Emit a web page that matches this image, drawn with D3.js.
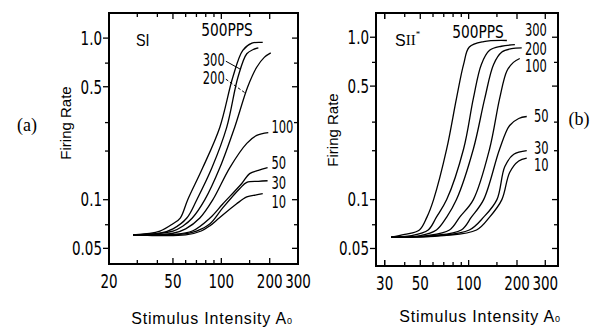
<!DOCTYPE html>
<meta charset="utf-8">
<style>
body { margin: 0; background: #fff; }
svg { display: block; }
.narrow { font-family: "Liberation Sans Narrow", "DejaVu Sans Condensed", sans-serif; }
.sans { font-family: "Liberation Sans", Arial, sans-serif; }
.serif { font-family: "Liberation Serif", "Times New Roman", serif; }
</style>
<svg id="fig" width="597" height="327"></svg>
<script src="https://cdn.jsdelivr.net/npm/d3@7"></script>
<script>
// pulse rates (PPS) of each curve
var rates = ["500", "300", "200", "100", "50", "30", "10"];

// (a) SI : stimulus intensity and firing rate per curve
var siX500 = [28.2, 41.5, 50, 55.5, 61.8, 76.7, 97.8, 118, 136, 155, 181];
var siY500 = [0.0606, 0.064, 0.071, 0.077, 0.1, 0.158, 0.28, 0.574, 0.84, 0.93, 0.94];
var siX300 = [28.2, 41.5, 50, 61, 70.4, 87.5, 108, 127, 144, 158, 170];
var siY300 = [0.0606, 0.062, 0.066, 0.077, 0.1, 0.158, 0.28, 0.574, 0.8, 0.85, 0.87];
var siX200 = [28.2, 50, 58, 66, 79, 98, 121, 146, 166, 185, 203];
var siY200 = [0.0606, 0.064, 0.069, 0.077, 0.1, 0.158, 0.28, 0.5, 0.66, 0.76, 0.81];
var siX100 = [28.2, 50, 60, 73.5, 88.6, 113, 144, 166, 196];
var siY100 = [0.0606, 0.062, 0.066, 0.077, 0.1, 0.158, 0.223, 0.25, 0.26];
var siX50 = [28.2, 50, 66, 85, 102, 134, 150, 170, 194];
var siY50 = [0.0606, 0.061, 0.064, 0.077, 0.094, 0.126, 0.145, 0.152, 0.158];
var siX30 = [28.2, 55, 70, 85, 102, 130, 144, 170, 194];
var siY30 = [0.0606, 0.061, 0.064, 0.071, 0.089, 0.117, 0.128, 0.13, 0.131];
var siX10 = [28.2, 60, 75, 85, 97, 124, 144, 165, 181];
var siY10 = [0.0606, 0.0605, 0.064, 0.069, 0.077, 0.094, 0.104, 0.107, 0.109];

// (b) SII*
var s2X500 = [33, 40, 49.4, 55, 60.5, 73, 84, 93, 101, 124, 173];
var s2Y500 = [0.0587, 0.061, 0.065, 0.078, 0.1, 0.205, 0.42, 0.68, 0.87, 0.94, 0.955];
var s2X300 = [33, 44, 56, 63, 73, 93, 107, 120, 135, 160, 194];
var s2Y300 = [0.0587, 0.06, 0.065, 0.078, 0.1, 0.205, 0.42, 0.68, 0.83, 0.88, 0.9];
var s2X200 = [33, 50, 63, 73, 84, 107, 126, 143, 161, 185, 214];
var s2Y200 = [0.0587, 0.06, 0.065, 0.078, 0.1, 0.205, 0.42, 0.68, 0.81, 0.85, 0.86];
var s2X100 = [33, 55, 76, 88, 107, 135, 156, 173, 190, 208];
var s2Y100 = [0.0587, 0.06, 0.065, 0.078, 0.1, 0.205, 0.42, 0.62, 0.7, 0.74];
var s2X50 = [33, 60, 90, 104, 124, 156, 180, 205, 230];
var s2Y50 = [0.0587, 0.06, 0.065, 0.078, 0.1, 0.205, 0.286, 0.316, 0.325];
var s2X30 = [33, 65, 101, 124, 150, 168, 191, 230];
var s2Y30 = [0.0587, 0.06, 0.065, 0.078, 0.1, 0.16, 0.19, 0.2];
var s2X10 = [33, 70, 112, 135, 161, 180, 205, 230];
var s2Y10 = [0.0587, 0.06, 0.065, 0.078, 0.1, 0.147, 0.173, 0.18];

// axis ticks
var yTickLabels = [1.0, 0.5, 0.1, 0.05];
var yTicksMinor = [0.07, 0.2, 0.3, 0.7];
var xTickLabelsA = [20, 50, 100, 200, 300];
var xTickLabelsB = [30, 50, 100, 200, 300];
var xTicksMinor = [30, 40, 60, 70, 80, 90, 150];

// curve label anchors (intensity, rate)
var siLabelX = [null, 76.7, 76.7, 205, 205, 205, 205];
var siLabelY = [null, 0.73, 0.565, 0.28, 0.168, 0.127, 0.096];
var s2LabelX = [null, 224, 224, 224, 255, 255, 255];
var s2LabelY = [null, 1.1, 0.84, 0.665, 0.326, 0.207, 0.163];
// pointer lines for 300 / 200 in (a)
var siPointX = [132, 142];
var siPointY = [0.64, 0.455];

var svg = d3.select("#fig");

function zip(xs, ys) { return xs.map(function(x, i){ return [x, ys[i]]; }); }

function label(g, s, x, y, cls, size, sx, anchor) {
  return g.append("text")
    .attr("class", cls)
    .attr("transform", "translate(" + x + "," + y + ") scale(" + sx + ",1)")
    .attr("text-anchor", anchor || "start")
    .attr("dominant-baseline", "central")
    .style("font-size", size + "px")
    .text(s);
}

function panel(opt) {
  var x = d3.scaleLog().domain(opt.xDomain).range([opt.left, opt.right]);
  var y = d3.scaleLog().domain(opt.yDomain).range([opt.bottom, opt.top]);
  var g = svg.append("g");

  // ticks
  var tk = g.append("g").attr("stroke", "#000").attr("stroke-width", 1.3);
  yTickLabels.concat(yTicksMinor).forEach(function(v){
    var len = yTickLabels.indexOf(v) >= 0 ? 6 : 4;
    tk.append("line").attr("x1", opt.left - len).attr("x2", opt.left).attr("y1", y(v)).attr("y2", y(v));
    tk.append("line").attr("x1", opt.right - len).attr("x2", opt.right).attr("y1", y(v)).attr("y2", y(v));
  });
  opt.xLabels.concat(xTicksMinor).forEach(function(v){
    if (v <= opt.xDomain[0] || v >= opt.xDomain[1]) return;
    var len = opt.xLabels.indexOf(v) >= 0 ? 6 : 4;
    tk.append("line").attr("x1", x(v)).attr("x2", x(v)).attr("y1", opt.bottom).attr("y2", opt.bottom - len);
    tk.append("line").attr("x1", x(v)).attr("x2", x(v)).attr("y1", opt.top).attr("y2", opt.top + len);
  });

  // frame
  g.append("rect")
    .attr("x", opt.left).attr("y", opt.top)
    .attr("width", opt.right - opt.left).attr("height", opt.bottom - opt.top)
    .attr("fill", "none").attr("stroke", "#000").attr("stroke-width", 2);

  // tick labels
  yTickLabels.forEach(function(v){
    label(g, v === 1 ? "1.0" : String(v), opt.left - 7, y(v), "narrow", 20, 0.75, "end");
  });
  opt.xLabels.forEach(function(v){
    var px = Math.max(x(v), opt.left);
    label(g, String(v), px, opt.bottom + 17, "narrow", 20, 0.75, "middle");
  });

  // curves
  var line = d3.line()
    .x(function(d){ return x(d[0]); })
    .y(function(d){ return y(d[1]); })
    .curve(d3.curveCatmullRom.alpha(0.5));
  g.append("g").selectAll("path").data(opt.series).join("path")
    .attr("d", line)
    .attr("fill", "none")
    .attr("stroke", "#000")
    .attr("stroke-width", 1.3);

  // curve labels
  rates.forEach(function(r, i){
    if (opt.labelX[i] == null) return;
    label(g, r, x(opt.labelX[i]), y(opt.labelY[i]), "narrow", 17, 0.75, "start");
  });
  return { x: x, y: y, g: g };
}

var a = panel({
  left: 109, right: 298, top: 13, bottom: 264,
  xDomain: [20, 300], yDomain: [0.04, 1.43],
  xLabels: xTickLabelsA,
  series: [zip(siX500, siY500), zip(siX300, siY300), zip(siX200, siY200), zip(siX100, siY100),
           zip(siX50, siY50), zip(siX30, siY30), zip(siX10, siY10)],
  labelX: siLabelX, labelY: siLabelY
});

var b = panel({
  left: 376, right: 558, top: 13, bottom: 266,
  xDomain: [26.5, 360], yDomain: [0.039, 1.41],
  xLabels: xTickLabelsB,
  series: [zip(s2X500, s2Y500), zip(s2X300, s2Y300), zip(s2X200, s2Y200), zip(s2X100, s2Y100),
           zip(s2X50, s2Y50), zip(s2X30, s2Y30), zip(s2X10, s2Y10)],
  labelX: s2LabelX, labelY: s2LabelY
});

// pointers from "300" / "200" to their curves in (a)
[1, 2].forEach(function(i, k){
  a.g.append("line")
    .attr("x1", a.x(siLabelX[i]) + 23).attr("y1", a.y(siLabelY[i]) + 1)
    .attr("x2", a.x(siPointX[k])).attr("y2", a.y(siPointY[k]))
    .attr("stroke", "#000").attr("stroke-width", 1)
    .attr("stroke-dasharray", k === 1 ? "3,2" : null);
});

// panel texts
label(a.g, "500PPS", 227, 30, "narrow", 17, 0.9, "middle");
label(b.g, "500PPS", 478, 32, "narrow", 17, 0.9, "middle");
label(a.g, "SI", 136, 40, "sans", 16, 0.9, "start");
var s2 = b.g.append("text").attr("x", 395).attr("y", 40).attr("dominant-baseline", "central");
s2.append("tspan").attr("class", "sans").style("font-size", "16px").text("S");
s2.append("tspan").attr("class", "serif").style("font-size", "15px").text("II");
s2.append("tspan").attr("class", "serif").style("font-size", "9px").attr("dy", -6).text("*");

// axis titles
[[a, 65, 123], [b, 332, 130]].forEach(function(p){
  p[0].g.append("text").attr("class", "sans")
    .attr("transform", "translate(" + p[1] + "," + p[2] + ") rotate(-90)")
    .attr("text-anchor", "middle").attr("dominant-baseline", "central")
    .style("font-size", "15px").text("Firing Rate");
});
[[a, 212, 318], [b, 480, 316]].forEach(function(p){
  var t = p[0].g.append("text").attr("class", "sans")
    .attr("x", p[1]).attr("y", p[2])
    .attr("text-anchor", "middle").attr("dominant-baseline", "central")
    .style("font-size", "16px").style("letter-spacing", "0.8px");
  t.append("tspan").text("Stimulus Intensity A");
  t.append("tspan").style("font-size", "9px").attr("dy", 3).text("0");
});

label(a.g, "(a)", 27, 125, "serif", 18, 1, "middle");
label(b.g, "(b)", 579, 119, "serif", 18, 1, "middle");
</script>
